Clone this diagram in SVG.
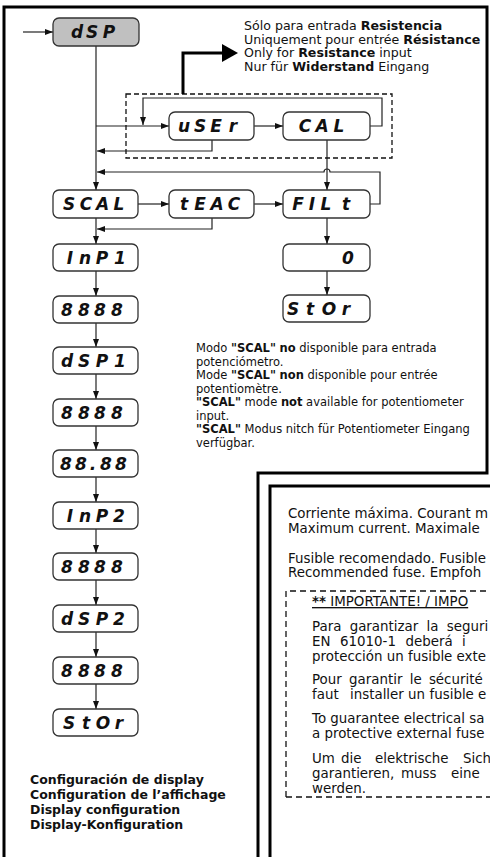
<svg xmlns="http://www.w3.org/2000/svg" width="490" height="857" viewBox="0 0 490 857">
<style>
.box{fill:#fff;stroke:#333;stroke-width:1.3}
.seg{font-family:"DejaVu Sans",sans-serif;font-style:italic;font-weight:bold;font-size:17px;fill:#111;text-anchor:middle}
.ln{fill:none;stroke:#222;stroke-width:1.2}
.t{font-family:"DejaVu Sans",sans-serif;fill:#111}
.n1{font-size:12.6px}
.n2{font-size:11.5px}
.n3{font-size:13.4px}
.b{font-weight:bold}
.dash{fill:none;stroke:#111;stroke-width:1.3}
</style>
<defs>
<marker id="ah" markerUnits="userSpaceOnUse" markerWidth="9" markerHeight="7" refX="8" refY="3" orient="auto">
<path d="M0,0 L8,3 L0,6 z" fill="#111"/>
</marker>
</defs>
<rect width="490" height="857" fill="#fff"/>
<g id="frame" fill="none" stroke="#000" stroke-width="3">
<path d="M4,857 V7 H487 V473 H258 V857"/>
<rect x="270" y="486" width="240" height="400"/>
</g>
<g id="connectors">
<path class="ln" d="M23,32 H53" marker-end="url(#ah)"/>
<path class="ln" d="M96,46 V190" marker-end="url(#ah)"/>
<path class="ln" d="M96,126 H169" marker-end="url(#ah)"/>
<path class="ln" d="M254,126 H283" marker-end="url(#ah)"/>
<path class="ln" d="M370,126 H382 V98 H143 V125" marker-end="url(#ah)"/>
<path class="ln" d="M212,140 V151 H97" marker-end="url(#ah)" stroke="#555"/>
<path class="ln" d="M327,140 V190" marker-end="url(#ah)" stroke="#555"/>
<path class="ln" d="M370,204 H380 V172 H330 A3,3 0 0 0 324,172 H97" marker-end="url(#ah)"/>
<path class="ln" d="M138,204 H169" marker-end="url(#ah)"/>
<path class="ln" d="M254,204 H283" marker-end="url(#ah)"/>
<path class="ln" d="M212,218 V229 H97" marker-end="url(#ah)"/>
<path class="ln" d="M327,218 V244" marker-end="url(#ah)"/>
<path class="ln" d="M327,271 V295" marker-end="url(#ah)"/>
<path class="ln" d="M96,218 V244" marker-end="url(#ah)"/>
<path class="ln" d="M96,271 V296" marker-end="url(#ah)"/>
<path class="ln" d="M96,323 V347" marker-end="url(#ah)"/>
<path class="ln" d="M96,374 V399" marker-end="url(#ah)"/>
<path class="ln" d="M96,426 V450" marker-end="url(#ah)"/>
<path class="ln" d="M96,477 V502" marker-end="url(#ah)"/>
<path class="ln" d="M96,529 V553" marker-end="url(#ah)"/>
<path class="ln" d="M96,580 V605" marker-end="url(#ah)"/>
<path class="ln" d="M96,632 V657" marker-end="url(#ah)"/>
<path class="ln" d="M96,684 V709" marker-end="url(#ah)"/>
<rect class="dash" x="126" y="94" width="266" height="64" stroke-dasharray="5,3"/>
<path d="M183,94 V53 H223" fill="none" stroke="#000" stroke-width="3"/>
<polygon points="222,44 238,53 222,62" fill="#000"/>
</g>
<g id="n-dsp"><rect class="box" x="53" y="18" width="86" height="28" rx="6" style="fill:#c0c0c0"/><text class="seg" x="77 92 109" y="38">dSP</text></g>
<g id="n-user"><rect class="box" x="169" y="112" width="85" height="28" rx="6"/><text class="seg" x="184 200 216 233" y="132">uSEr</text></g>
<g id="n-cal"><rect class="box" x="283" y="112" width="87" height="28" rx="6"/><text class="seg" x="305 322 339" y="132">CAL</text></g>
<g id="n-scal"><rect class="box" x="53" y="190" width="85" height="28" rx="6"/><text class="seg" x="69 86 102.5 119" y="210">SCAL</text></g>
<g id="n-teac"><rect class="box" x="169" y="190" width="85" height="28" rx="6"/><text class="seg" x="184 200 217 234" y="210">tEAC</text></g>
<g id="n-filt"><rect class="box" x="283" y="190" width="87" height="28" rx="6"/><text class="seg" x="298 312 326 346" y="210">FILt</text></g>
<g id="n-zero"><rect class="box" x="283" y="244" width="87" height="27" rx="6"/><text class="seg" x="348" y="264">0</text></g>
<g id="n-stor2"><rect class="box" x="283" y="295" width="87" height="27" rx="6"/><text class="seg" x="293 310 329 346" y="315">StOr</text></g>
<g id="n-inp1"><rect class="box" x="53" y="244" width="85" height="27" rx="6"/><text class="seg" x="70 85 102 120" y="264">InP1</text></g>
<g id="n-v1"><rect class="box" x="53" y="296" width="85" height="27" rx="6"/><text class="seg" x="67 84 100 117" y="316">8888</text></g>
<g id="n-dsp1"><rect class="box" x="53" y="347" width="85" height="27" rx="6"/><text class="seg" x="67 84 102 120" y="367">dSP1</text></g>
<g id="n-v2"><rect class="box" x="53" y="399" width="85" height="27" rx="6"/><text class="seg" x="67 84 100 117" y="419">8888</text></g>
<g id="n-v3"><rect class="box" x="53" y="450" width="85" height="27" rx="6"/><text class="seg" x="66 81 93 106 121" y="470">88.88</text></g>
<g id="n-inp2"><rect class="box" x="53" y="502" width="85" height="27" rx="6"/><text class="seg" x="70 85 102 119" y="522">InP2</text></g>
<g id="n-v4"><rect class="box" x="53" y="553" width="85" height="27" rx="6"/><text class="seg" x="67 84 100 117" y="573">8888</text></g>
<g id="n-dsp2"><rect class="box" x="53" y="605" width="85" height="27" rx="6"/><text class="seg" x="67 84 102 119" y="625">dSP2</text></g>
<g id="n-v5"><rect class="box" x="53" y="657" width="85" height="27" rx="6"/><text class="seg" x="67 84 100 117" y="677">8888</text></g>
<g id="n-stor"><rect class="box" x="53" y="709" width="85" height="27" rx="6"/><text class="seg" x="69 86 103 119" y="729">StOr</text></g>
<g id="note-res" class="t n1">
<text x="244" y="30">Sólo para entrada <tspan class="b">Resistencia</tspan></text>
<text x="244" y="43.5">Uniquement pour entrée <tspan class="b">Résistance</tspan></text>
<text x="244" y="57">Only for <tspan class="b">Resistance</tspan> input</text>
<text x="244" y="70.5">Nur für <tspan class="b">Widerstand</tspan> Eingang</text>
</g>
<g id="note-scal" class="t n2">
<text x="196" y="352">Modo <tspan class="b">"SCAL"</tspan> <tspan class="b">no</tspan> disponible para entrada</text>
<text x="196" y="365.5">potenciómetro.</text>
<text x="196" y="379">Mode <tspan class="b">"SCAL"</tspan> <tspan class="b">non</tspan> disponible pour entrée</text>
<text x="196" y="392.5">potentiomètre.</text>
<text x="196" y="406"><tspan class="b">"SCAL"</tspan> mode <tspan class="b">not</tspan> available for potentiometer</text>
<text x="196" y="419.5">input.</text>
<text x="196" y="433"><tspan class="b">"SCAL"</tspan> Modus nitch für Potentiometer Eingang</text>
<text x="196" y="446.5">verfügbar.</text>
</g>
<g id="title" class="t b" font-size="12.5">
<text x="30" y="784">Configuración de display</text>
<text x="30" y="799">Configuration de l’affichage</text>
<text x="30" y="814">Display configuration</text>
<text x="30" y="829">Display-Konfiguration</text>
</g>
<g id="fuse-note" class="t n3">
<text x="288" y="518">Corriente máxima. Courant m</text>
<text x="288" y="533">Maximum current. Maximale</text>
<text x="288" y="563">Fusible recomendado. Fusible</text>
<text x="288" y="577">Recommended fuse. Empfoh</text>
<path class="dash" d="M286,797 V591 H492 M286,797 H492" stroke-dasharray="6,4"/>
<text x="312" y="606" text-decoration="underline"><tspan class="b">**</tspan> IMPORTANTE! / IMPO</text>
<text x="312" y="631" word-spacing="4">Para garantizar la seguri</text>
<text y="646"><tspan x="312">EN</tspan><tspan x="340">61010-1</tspan><tspan x="405.5">deberá</tspan><tspan x="462">i</tspan></text>
<text x="312" y="661">protección un fusible exte</text>
<text x="312" y="683.5" word-spacing="3">Pour garantir le sécurité</text>
<text y="698.5"><tspan x="312">faut</tspan><tspan x="350">installer</tspan><tspan x="408">un</tspan><tspan x="429.5">fusible</tspan><tspan x="478">e</tspan></text>
<text x="312" y="723">To guarantee electrical sa</text>
<text x="312" y="738">a protective external fuse</text>
<text y="762.5"><tspan x="312">Um</tspan><tspan x="341">die</tspan><tspan x="375">elektrische</tspan><tspan x="463">Sich</tspan></text>
<text y="777.5"><tspan x="312">garantieren,</tspan><tspan x="401">muss</tspan><tspan x="451">eine</tspan></text>
<text x="312" y="792.5">werden.</text>
</g>
</svg>
